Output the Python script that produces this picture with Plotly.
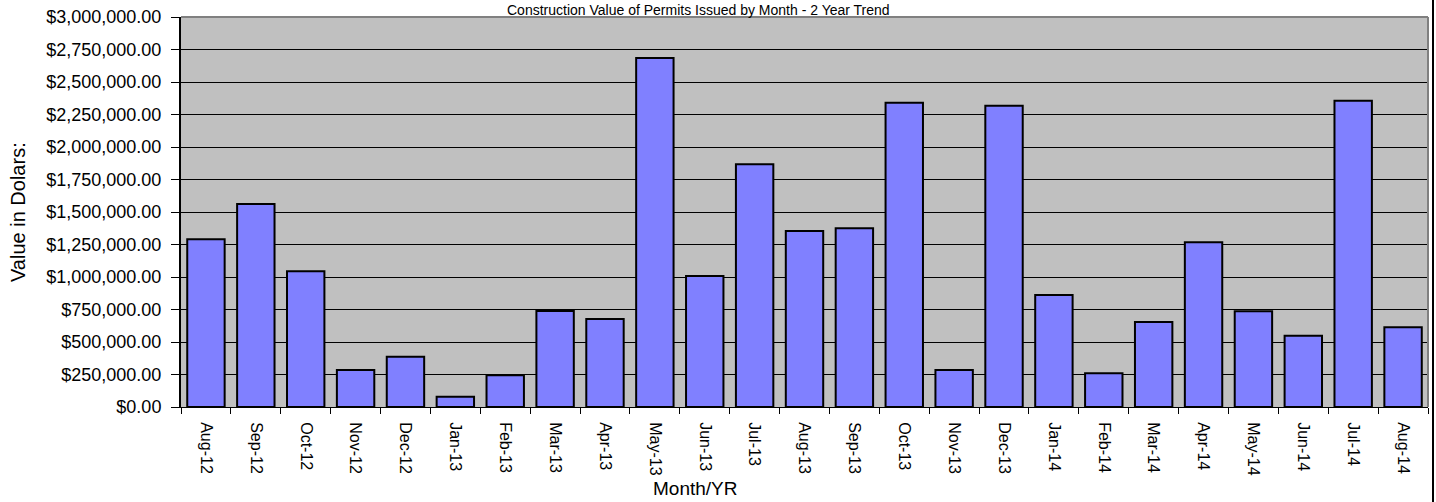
import plotly.graph_objects as go

months = ["Aug-12", "Sep-12", "Oct-12", "Nov-12", "Dec-12", "Jan-13", "Feb-13", "Mar-13",
          "Apr-13", "May-13", "Jun-13", "Jul-13", "Aug-13", "Sep-13", "Oct-13", "Nov-13",
          "Dec-13", "Jan-14", "Feb-14", "Mar-14", "Apr-14", "May-14", "Jun-14", "Jul-14", "Aug-14"]
values = [1290000, 1562000, 1044000, 285000, 387000, 79000, 244000, 738000,
          677000, 2685000, 1008000, 1867000, 1354000, 1375000, 2341000, 285000,
          2318000, 862000, 259000, 654000, 1267000, 736000, 549000, 2356000, 613000]

title_text = "Construction Value of Permits Issued by Month - 2 Year Trend"
x_title = "Month/YR"
y_title = "Value in Dolars:"

FONT = "Liberation Sans, Arial, sans-serif"

fig = go.Figure(go.Bar(
    x=months, y=values,
    marker=dict(color="#8080FF", line=dict(color="black", width=2)),
))

L, R, T, B = 181, 8, 17, 95
W, H = 1436, 502
pw = W - L - R
ph = H - T - B

fig.update_layout(
    width=W, height=H,
    margin=dict(l=L, r=R, t=T, b=B, pad=0, autoexpand=False),
    paper_bgcolor="white",
    plot_bgcolor="#C0C0C0",
    bargap=0.25,
    showlegend=False,
    font=dict(family=FONT, size=18, color="black"),
    xaxis=dict(
        type="category", tickson="boundaries", ticks="outside", ticklen=6,
        tickcolor="black", tickwidth=1, tickangle=90, ticklabelstandoff=11,
        showline=True, linecolor="black", linewidth=1,
        showgrid=False, automargin=False,
        tickfont=dict(family=FONT, size=16, color="black"),
    ),
    yaxis=dict(
        range=[0, 3000000], dtick=250000, tick0=0,
        tickprefix="$", tickformat=",.2f",
        ticks="outside", ticklen=8, tickcolor="black", tickwidth=1, ticklabelstandoff=6,
        showline=True, linecolor="black", linewidth=2,
        showgrid=True, gridcolor="black", gridwidth=1,
        zeroline=False, automargin=False,
        tickfont=dict(family=FONT, size=18, color="black"),
    ),
    annotations=[
        dict(text=title_text, xref="paper", yref="paper", x=(698 - L) / pw, y=1 - 2 / ph,
             xanchor="center", yanchor="bottom", showarrow=False, borderpad=0,
             font=dict(family=FONT, size=14, color="black")),
        dict(text=x_title, xref="paper", yref="paper", x=(695 - L) / pw, y=-(489 - T - ph) / ph,
             xanchor="center", yanchor="middle", showarrow=False,
             font=dict(family=FONT, size=19, color="black")),
        dict(text=y_title, xref="paper", yref="paper", x=-(L - 18) / pw, y=(H - B - 212) / ph,
             xanchor="center", yanchor="middle", textangle=-90, showarrow=False,
             font=dict(family=FONT, size=20, color="black")),
    ],
)

# gray plot-area border on top and right
fig.add_shape(type="line", xref="paper", yref="paper", x0=0, x1=1, y0=1, y1=1,
              line=dict(color="#808080", width=2))
fig.add_shape(type="line", xref="paper", yref="paper", x0=1, x1=1, y0=0, y1=1,
              line=dict(color="#808080", width=2))
# chart-area border on the right
xr = (1433 - L) / pw
fig.add_shape(type="line", xref="paper", yref="paper", x0=xr, x1=xr,
              y0=-B / ph, y1=1 + T / ph,
              line=dict(color="black", width=2))

fig.write_html("out.html", config={"displayModeBar": False},
               post_script="document.body.style.margin='0';document.body.style.overflow='hidden';")
